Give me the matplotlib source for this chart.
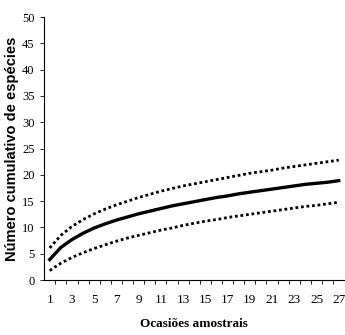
import numpy as np
import matplotlib.pyplot as plt
from matplotlib.ticker import FixedLocator

# Curva de acumulação de espécies (média e intervalo de confiança)
ocasioes = list(range(1, 28))
media = [3.9, 6.2, 7.7, 8.9, 9.9, 10.7, 11.4, 12.0, 12.6, 13.1, 13.6, 14.1, 14.5, 14.9,
         15.3, 15.7, 16.0, 16.4, 16.7, 17.0, 17.3, 17.6, 17.9, 18.2, 18.4, 18.6, 18.9]
superior = [6.1, 8.5, 10.2, 11.5, 12.6, 13.5, 14.3, 15.0, 15.7, 16.3, 16.9, 17.4, 17.9, 18.3,
            18.7, 19.1, 19.5, 19.9, 20.3, 20.6, 20.9, 21.3, 21.6, 21.9, 22.2, 22.5, 22.8]
inferior = [1.8, 3.2, 4.3, 5.2, 6.0, 6.7, 7.4, 8.0, 8.5, 9.0, 9.5, 9.9, 10.4, 10.8,
            11.2, 11.5, 11.9, 12.2, 12.5, 12.8, 13.1, 13.4, 13.7, 14.0, 14.2, 14.5, 14.8]
rotulos_x = [str(i) for i in range(1, 28, 2)]
ticks_y = list(range(0, 51, 5))

plt.rcParams['font.family'] = ['Liberation Serif', 'DejaVu Serif']

fig = plt.figure(figsize=(3.45, 3.35), dpi=100)
ax = fig.add_axes([0.128, 0.164, 0.87, 0.785])

ax.plot(ocasioes, superior, color='black', linestyle=(0, (1, 1)), linewidth=2.0)
ax.plot(ocasioes, inferior, color='black', linestyle=(0, (1, 1)), linewidth=2.0)
ax.plot(ocasioes, media, color='black', linewidth=2.4)

ax.set_xlim(0.5, 27.5)
ax.set_ylim(0, 50)
ax.set_yticks(ticks_y)
ax.set_xticks(list(range(1, 28, 2)))
ax.set_xticklabels(rotulos_x)
ax.xaxis.set_minor_locator(FixedLocator(np.arange(1.5, 27.5, 1)))
ax.tick_params(axis='x', which='major', length=0, pad=10, labelsize=9.5)
ax.tick_params(axis='x', which='minor', length=3, width=0.6, direction='out')
ax.tick_params(axis='y', length=3, width=0.6, labelsize=9, pad=4)

for s in ['top', 'right']:
    ax.spines[s].set_visible(False)
ax.spines['left'].set_linewidth(0.8)
ax.spines['bottom'].set_linewidth(0.8)

ax.set_xlabel('Ocasiões amostrais', fontsize=9.5, fontweight='bold', labelpad=9)
ax.set_ylabel('Número cumulativo de espécies', fontsize=10.5, fontweight='bold',
              family=['Liberation Sans', 'DejaVu Sans'])
ax.yaxis.set_label_coords(-0.085, 0.5)

fig.savefig('out.png', dpi=100)
